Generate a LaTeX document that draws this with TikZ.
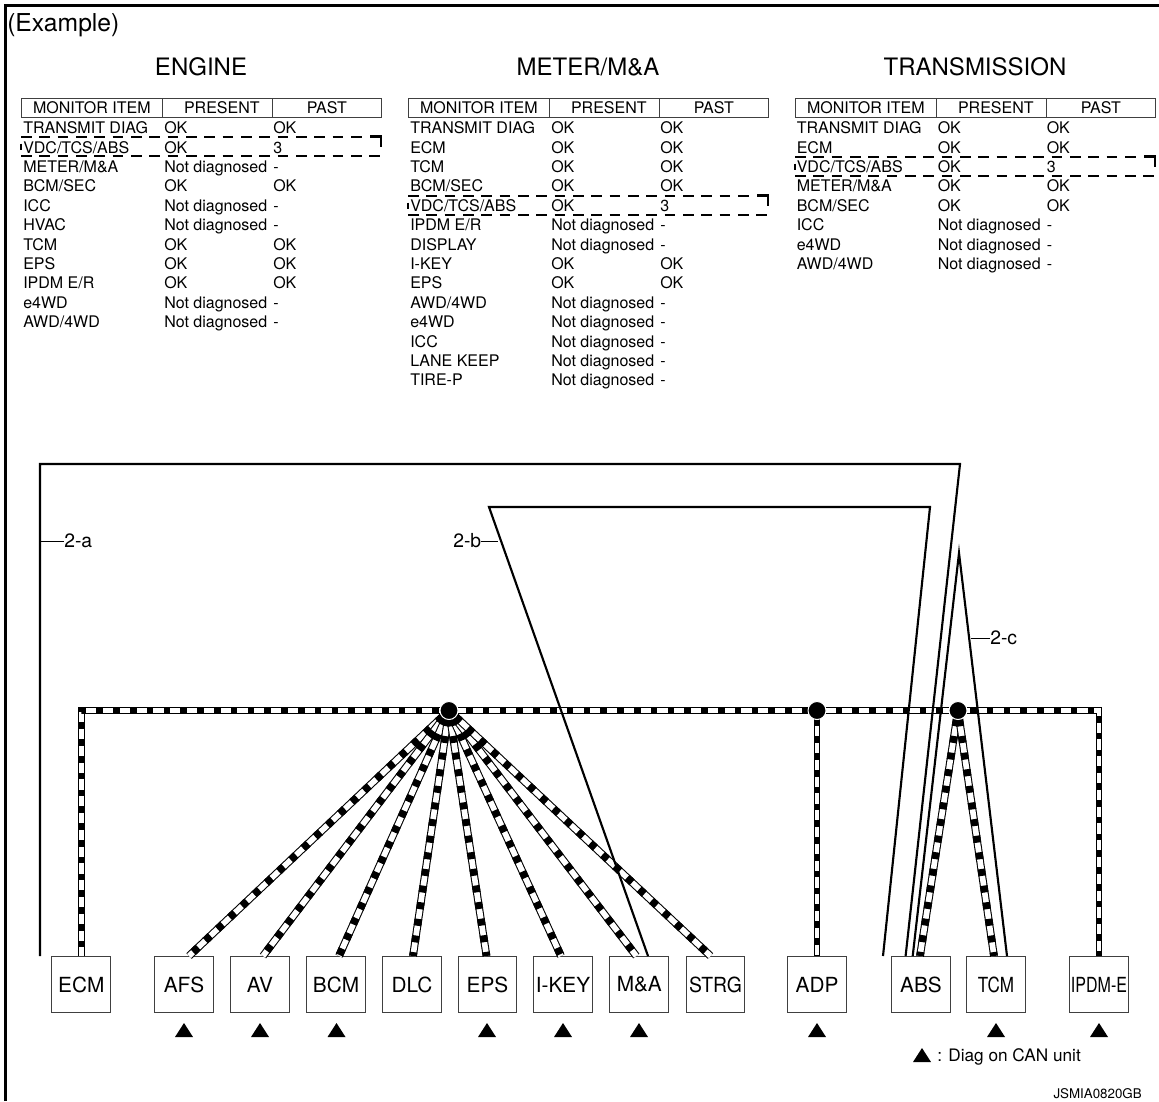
\documentclass[tikz,border=0pt]{standalone}
\usepackage{fontspec}
\setmainfont{TeX Gyre Heros}
\usetikzlibrary{calc}
\newcommand{\tbfs}{\fontsize{12}{14}\selectfont}
\newcommand{\tbrow}[6]{% prefix, y, x0, a, b, c
  \node[cell] (#1a) at ($(#3,#2)+(0,0.6)$) {#4};
  \node[cell] (#1b) at ($(#3,#2)+(141,0.6)$) {#5};
  \node[cell] (#1c) at ($(#3,#2)+(250,0.6)$) {#6};
}
\newcommand{\tbhead}[2]{% prefix, x0
  \node[headcell,minimum width=105.5pt] (#1h1) at (#2,98) {MONITOR ITEM};
  \node[headcell,minimum width=82.5pt] (#1h2) at ($(#2,98)+(140.7,0)$) {\hspace{7pt}PRESENT};
  \node[headcell,minimum width=82pt] (#1h3) at ($(#2,98)+(250.7,0)$) {PAST};
}
\newcommand{\hlbox}[3]{% prefix, x0, ytop
  \coordinate (#1tl) at (#2,#3);
  \coordinate (#1tr) at ($(#2,#3)+(360,0)$);
  \coordinate (#1bl) at ($(#2,#3)+(0,19.5)$);
  \coordinate (#1br) at ($(#2,#3)+(360,19.5)$);
  \draw[dashln] (#1tl) -- ($(#1tr)+(-12,0)$);
  \draw[dashln] (#1bl) -- (#1br);
  \draw[line width=1.6pt] ($(#1tl)+(0,7)$) -- ($(#1tl)+(0,13)$);
  \draw[line width=1.6pt,line join=miter] ($(#1tr)+(-11,0)$) -- (#1tr) -- ($(#1tr)+(0,10)$);
}
\newcommand{\tri}[2]{\fill (#1,#2) -- ++(-9,14) -- ++(18,0) -- cycle;}
\begin{document}
\begin{tikzpicture}[x=0.75pt,y=-0.75pt,
  cell/.style={anchor=base west,inner sep=0pt,font=\tbfs},
  headcell/.style={anchor=north west,draw=black!75,line width=0.7pt,inner sep=0pt,minimum height=14.25pt,font=\tbfs},
  title/.style={anchor=base,inner sep=0pt,font=\fontsize{18}{20}\selectfont},
  box/.style={draw=black!75,line width=0.75pt,minimum width=44pt,minimum height=42pt,inner sep=0pt,font=\fontsize{15.6}{18}\selectfont,fill=white},
  wire/.style={line width=1.6pt,line join=miter},
  leader/.style={line width=0.75pt},
  lab/.style={anchor=base,inner sep=0pt,font=\fontsize{14.5}{16}\selectfont},
  dashln/.style={line width=1.5pt,dash pattern=on 8pt off 5.75pt},
  can/.style={line width=5.2pt,draw=black,line join=miter,
    postaction={draw=white,line width=3.7pt},
    postaction={draw=black,line width=5.2pt,dash pattern=on 5pt off 7.6pt,dash phase=#1}},
  can/.default=5.85pt,
  canfan/.style={line width=5.8pt,draw=black,line join=miter,
    postaction={draw=white,line width=4.2pt},
    postaction={draw=black,line width=5.8pt,dash pattern=on 5.2pt off 7.4pt,dash phase=5.85pt}},
  dot/.style={circle,fill=black,draw=white,line width=0.75pt,minimum size=13.5pt,inner sep=0pt},
]
\useasboundingbox (0,0) rectangle (1159,1101);
% frame
\coordinate (fa) at (5.5,1101);
\coordinate (fb) at (5.5,5.5);
\coordinate (fc) at (1159,5.5);
\draw[line width=2.1pt,line join=miter] (fa) -- (fb) -- (fc);
\node[anchor=base west,inner sep=0pt,font=\fontsize{18.5}{20}\selectfont] (example) at (7,31) {(Example)};
% titles
\node[title] (t1) at (201,75) {ENGINE};
\node[title] (t2) at (588,75) {METER/M\&A};
\node[title] (t3) at (975,75) {TRANSMISSION};
% headers
\tbhead{e}{21}
\tbhead{m}{408}
\tbhead{t}{795}
% engine
\tbrow{ea}{133}{23}{TRANSMIT DIAG}{OK}{OK}
\tbrow{eb}{152.4}{23}{VDC/TCS/ABS}{OK}{3}
\tbrow{ec}{171.8}{23}{METER/M\&A}{Not diagnosed}{-}
\tbrow{ed}{191.2}{23}{BCM/SEC}{OK}{OK}
\tbrow{ee}{210.6}{23}{ICC}{Not diagnosed}{-}
\tbrow{ef}{230}{23}{HVAC}{Not diagnosed}{-}
\tbrow{eg}{249.4}{23}{TCM}{OK}{OK}
\tbrow{eh}{268.8}{23}{EPS}{OK}{OK}
\tbrow{ei}{288.2}{23}{IPDM E/R}{OK}{OK}
\tbrow{ej}{307.6}{23}{e4WD}{Not diagnosed}{-}
\tbrow{ek}{327}{23}{AWD/4WD}{Not diagnosed}{-}
% meter
\tbrow{ma}{133}{410}{TRANSMIT DIAG}{OK}{OK}
\tbrow{mb}{152.4}{410}{ECM}{OK}{OK}
\tbrow{mc}{171.8}{410}{TCM}{OK}{OK}
\tbrow{md}{191.2}{410}{BCM/SEC}{OK}{OK}
\tbrow{me}{210.6}{410}{VDC/TCS/ABS}{OK}{3}
\tbrow{mf}{230}{410}{IPDM E/R}{Not diagnosed}{-}
\tbrow{mg}{249.4}{410}{DISPLAY}{Not diagnosed}{-}
\tbrow{mh}{268.8}{410}{I-KEY}{OK}{OK}
\tbrow{mi}{288.2}{410}{EPS}{OK}{OK}
\tbrow{mj}{307.6}{410}{AWD/4WD}{Not diagnosed}{-}
\tbrow{mk}{327}{410}{e4WD}{Not diagnosed}{-}
\tbrow{ml}{346.4}{410}{ICC}{Not diagnosed}{-}
\tbrow{mm}{365.8}{410}{LANE KEEP}{Not diagnosed}{-}
\tbrow{mn}{385.2}{410}{TIRE-P}{Not diagnosed}{-}
% transmission
\tbrow{ta}{133}{796.5}{TRANSMIT DIAG}{OK}{OK}
\tbrow{tb}{152.4}{796.5}{ECM}{OK}{OK}
\tbrow{tc}{171.8}{796.5}{VDC/TCS/ABS}{OK}{3}
\tbrow{td}{191.2}{796.5}{METER/M\&A}{OK}{OK}
\tbrow{te}{210.6}{796.5}{BCM/SEC}{OK}{OK}
\tbrow{tf}{230}{796.5}{ICC}{Not diagnosed}{-}
\tbrow{tg}{249.4}{796.5}{e4WD}{Not diagnosed}{-}
\tbrow{th}{268.8}{796.5}{AWD/4WD}{Not diagnosed}{-}
% dashed highlights
\hlbox{da}{21}{136.5}
\hlbox{db}{408}{195.5}
\hlbox{dc}{795}{156.5}
% boxes
\node[box] (ecm) at (81.3,984.5) {ECM};
\node[box] (afs) at (184,984.5) {AFS};
\node[box] (av) at (260,984.5) {AV};
\node[box] (bcm) at (336,984.5) {BCM};
\node[box] (dlc) at (412,984.5) {DLC};
\node[box] (eps) at (487.5,984.5) {EPS};
\node[box] (ikey) at (563,984.5) {I-KEY};
\node[box] (ma) at (639.3,984.5) {M\&A};
\node[box] (strg) at (715.5,984.5) {\scalebox{0.93}[1]{STRG}};
\node[box] (adp) at (817,984.5) {ADP};
\node[box] (abs) at (921,984.5) {ABS};
\node[box] (tcm) at (996,984.5) {\scalebox{0.82}[1]{TCM}};
\node[box] (ipdm) at (1099,984.5) {\scalebox{0.77}[1]{IPDM-E}};
% junctions
\coordinate (j1) at (449,710.5);
\coordinate (j2) at (817,710.5);
\coordinate (j3) at (958,710.5);
% CAN
\draw[can=6.15pt] (ecm.north) |- (ipdm.north |- j1) -- (ipdm.north);
\foreach \tgt/\off in {afs/5,av/3,bcm/3,dlc/1,eps/-1,ikey/-2,ma/-3,strg/-5}{
  \draw[canfan] (j1) -- ([xshift=\off*0.75pt]\tgt.north);
}
\draw[can] (j2) -- (adp.north);
\draw[canfan] (j3) -- ([xshift=-0.75pt]abs.north);
\draw[canfan] (j3) -- ([xshift=-1.5pt]tcm.north);
\node[dot] (n1) at (j1) {};
\node[dot] (n2) at (j2) {};
\node[dot] (n3) at (j3) {};
% thin wires
\coordinate (aa) at (40,956);
\coordinate (ab) at (40,464);
\coordinate (ac) at (960,464);
\coordinate (ad) at (905.6,956);
\coordinate (ba) at (648,956);
\coordinate (bb) at (489,507);
\coordinate (bc) at (930,507);
\coordinate (bd) at (883,956);
\coordinate (ca) at (912.7,956);
\coordinate (cb) at (959,553);
\coordinate (cc) at (1007,956);
\draw[wire] (aa) -- (ab) -- (ac) -- (ad);
\draw[wire] (ba) -- (bb) -- (bc) -- (bd);
\draw[wire] (ca) -- (cb) -- (cc);
% labels
\node[lab,anchor=base west] (la) at (64,547) {2-a};
\node[lab,anchor=base west] (lb) at (453,547) {2-b};
\node[lab,anchor=base west] (lc) at (990,644) {2-c};
\coordinate (pa) at (40,541);
\coordinate (pb) at (498,541);
\coordinate (pc) at (971,638);
\draw[leader] (pa) -- (la.west |- pa);
\draw[leader] (lb.east |- pb) -- (pb);
\draw[leader] (pc) -- (lc.west |- pc);
% triangles
\tri{184}{1023}\tri{260}{1023}\tri{336.5}{1023}\tri{487}{1023}\tri{563}{1023}\tri{639}{1023}\tri{817}{1023}\tri{996}{1023}\tri{1099}{1023}
\tri{922}{1048}
\node[anchor=base west,inner sep=0pt,font=\fontsize{12.9}{15}\selectfont] (legend) at (937,1061) {: Diag on CAN unit};
\node[anchor=base east,inner sep=0pt,font=\fontsize{10}{12}\selectfont] (code) at (1142,1098) {JSMIA0820GB};
\end{tikzpicture}
\end{document}
